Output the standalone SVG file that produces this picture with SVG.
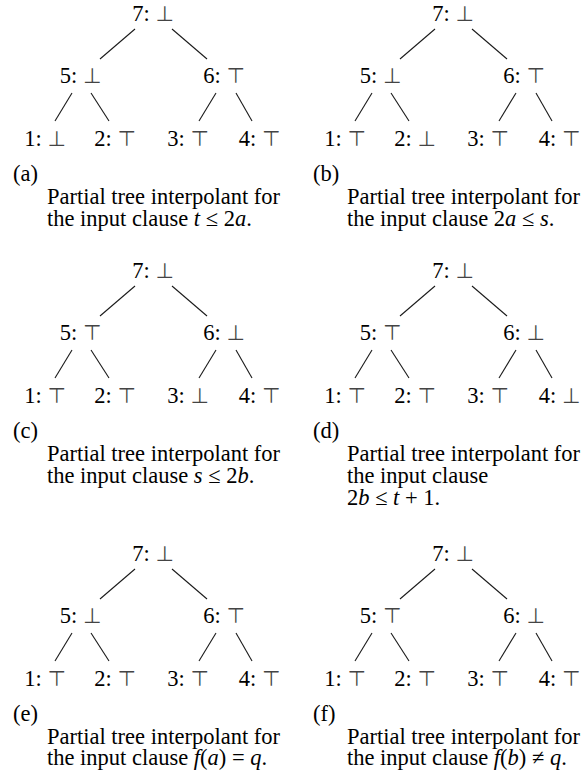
<svg xmlns="http://www.w3.org/2000/svg" width="582" height="773" viewBox="0 0 582 773">
<style>
.n{font-family:"Liberation Serif","Times New Roman",serif;font-size:22.5px;fill:#000;text-anchor:middle}
.s{font-family:"DejaVu Sans",sans-serif;font-size:21px;fill:#444}
.c{font-family:"Liberation Serif","Times New Roman",serif;font-size:22.5px;fill:#000}
.i{font-style:italic}
.e line{stroke:#1a1a1a;stroke-width:1.1;fill:none}
</style>
<g id="connectors" class="e">
<g id="edges-a">
<line x1="135" y1="29" x2="100" y2="59"/><line x1="172" y1="29" x2="207" y2="59"/>
<line x1="72" y1="93" x2="55" y2="121"/><line x1="91" y1="93" x2="109" y2="121"/>
<line x1="216" y1="93" x2="199" y2="121"/><line x1="236" y1="93" x2="252" y2="121"/>
</g>
<g id="edges-b" transform="translate(300,0)">
<line x1="135" y1="29" x2="100" y2="59"/><line x1="172" y1="29" x2="207" y2="59"/>
<line x1="72" y1="93" x2="55" y2="121"/><line x1="91" y1="93" x2="109" y2="121"/>
<line x1="216" y1="93" x2="199" y2="121"/><line x1="236" y1="93" x2="252" y2="121"/>
</g>
<g id="edges-c" transform="translate(0,257)">
<line x1="135" y1="29" x2="100" y2="59"/><line x1="172" y1="29" x2="207" y2="59"/>
<line x1="72" y1="93" x2="55" y2="121"/><line x1="91" y1="93" x2="109" y2="121"/>
<line x1="216" y1="93" x2="199" y2="121"/><line x1="236" y1="93" x2="252" y2="121"/>
</g>
<g id="edges-d" transform="translate(300,257)">
<line x1="135" y1="29" x2="100" y2="59"/><line x1="172" y1="29" x2="207" y2="59"/>
<line x1="72" y1="93" x2="55" y2="121"/><line x1="91" y1="93" x2="109" y2="121"/>
<line x1="216" y1="93" x2="199" y2="121"/><line x1="236" y1="93" x2="252" y2="121"/>
</g>
<g id="edges-e" transform="translate(0,540)">
<line x1="135" y1="29" x2="100" y2="59"/><line x1="172" y1="29" x2="207" y2="59"/>
<line x1="72" y1="93" x2="55" y2="121"/><line x1="91" y1="93" x2="109" y2="121"/>
<line x1="216" y1="93" x2="199" y2="121"/><line x1="236" y1="93" x2="252" y2="121"/>
</g>
<g id="edges-f" transform="translate(300,540)">
<line x1="135" y1="29" x2="100" y2="59"/><line x1="172" y1="29" x2="207" y2="59"/>
<line x1="72" y1="93" x2="55" y2="121"/><line x1="91" y1="93" x2="109" y2="121"/>
<line x1="216" y1="93" x2="199" y2="121"/><line x1="236" y1="93" x2="252" y2="121"/>
</g>
</g>
<g id="panel-a">
<g id="a7"><text class="n" x="153" y="21">7: <tspan class="s">⊥</tspan></text></g>
<g id="a5"><text class="n" x="80.5" y="83">5: <tspan class="s">⊥</tspan></text></g>
<g id="a6"><text class="n" x="224" y="83">6: <tspan class="s">⊤</tspan></text></g>
<g id="a1"><text class="n" x="45" y="146">1: <tspan class="s">⊥</tspan></text></g>
<g id="a2"><text class="n" x="115" y="146">2: <tspan class="s">⊤</tspan></text></g>
<g id="a3"><text class="n" x="188" y="146">3: <tspan class="s">⊤</tspan></text></g>
<g id="a4"><text class="n" x="259.5" y="146">4: <tspan class="s">⊤</tspan></text></g>
<text class="c" x="13" y="181">(a)</text>
<text class="c" x="47" y="204">Partial tree interpolant for</text>
<text class="c" x="47" y="226">the input clause <tspan class="i">t</tspan> ≤ 2<tspan class="i">a</tspan>.</text>
</g>
<g id="panel-b">
<g id="b7"><text class="n" x="453" y="21">7: <tspan class="s">⊥</tspan></text></g>
<g id="b5"><text class="n" x="380.5" y="83">5: <tspan class="s">⊥</tspan></text></g>
<g id="b6"><text class="n" x="524" y="83">6: <tspan class="s">⊤</tspan></text></g>
<g id="b1"><text class="n" x="345" y="146">1: <tspan class="s">⊤</tspan></text></g>
<g id="b2"><text class="n" x="415" y="146">2: <tspan class="s">⊥</tspan></text></g>
<g id="b3"><text class="n" x="488" y="146">3: <tspan class="s">⊤</tspan></text></g>
<g id="b4"><text class="n" x="559.5" y="146">4: <tspan class="s">⊤</tspan></text></g>
<text class="c" x="313" y="181">(b)</text>
<text class="c" x="347" y="204">Partial tree interpolant for</text>
<text class="c" x="347" y="226">the input clause 2<tspan class="i">a</tspan> ≤ <tspan class="i">s</tspan>.</text>
</g>
<g id="panel-c">
<g id="c7"><text class="n" x="153" y="278">7: <tspan class="s">⊥</tspan></text></g>
<g id="c5"><text class="n" x="80.5" y="340">5: <tspan class="s">⊤</tspan></text></g>
<g id="c6"><text class="n" x="224" y="340">6: <tspan class="s">⊥</tspan></text></g>
<g id="c1"><text class="n" x="45" y="403">1: <tspan class="s">⊤</tspan></text></g>
<g id="c2"><text class="n" x="115" y="403">2: <tspan class="s">⊤</tspan></text></g>
<g id="c3"><text class="n" x="188" y="403">3: <tspan class="s">⊥</tspan></text></g>
<g id="c4"><text class="n" x="259.5" y="403">4: <tspan class="s">⊤</tspan></text></g>
<text class="c" x="13" y="438">(c)</text>
<text class="c" x="47" y="461">Partial tree interpolant for</text>
<text class="c" x="47" y="483">the input clause <tspan class="i">s</tspan> ≤ 2<tspan class="i">b</tspan>.</text>
</g>
<g id="panel-d">
<g id="d7"><text class="n" x="453" y="278">7: <tspan class="s">⊥</tspan></text></g>
<g id="d5"><text class="n" x="380.5" y="340">5: <tspan class="s">⊤</tspan></text></g>
<g id="d6"><text class="n" x="524" y="340">6: <tspan class="s">⊥</tspan></text></g>
<g id="d1"><text class="n" x="345" y="403">1: <tspan class="s">⊤</tspan></text></g>
<g id="d2"><text class="n" x="415" y="403">2: <tspan class="s">⊤</tspan></text></g>
<g id="d3"><text class="n" x="488" y="403">3: <tspan class="s">⊤</tspan></text></g>
<g id="d4"><text class="n" x="559.5" y="403">4: <tspan class="s">⊥</tspan></text></g>
<text class="c" x="313" y="438">(d)</text>
<text class="c" x="347" y="461">Partial tree interpolant for</text>
<text class="c" x="347" y="483">the input clause</text>
<text class="c" x="347" y="505">2<tspan class="i">b</tspan> ≤ <tspan class="i">t</tspan> + 1.</text>
</g>
<g id="panel-e">
<g id="e7"><text class="n" x="153" y="561">7: <tspan class="s">⊥</tspan></text></g>
<g id="e5"><text class="n" x="80.5" y="623">5: <tspan class="s">⊥</tspan></text></g>
<g id="e6"><text class="n" x="224" y="623">6: <tspan class="s">⊤</tspan></text></g>
<g id="e1"><text class="n" x="45" y="686">1: <tspan class="s">⊤</tspan></text></g>
<g id="e2"><text class="n" x="115" y="686">2: <tspan class="s">⊤</tspan></text></g>
<g id="e3"><text class="n" x="188" y="686">3: <tspan class="s">⊤</tspan></text></g>
<g id="e4"><text class="n" x="259.5" y="686">4: <tspan class="s">⊤</tspan></text></g>
<text class="c" x="13" y="721">(e)</text>
<text class="c" x="47" y="744">Partial tree interpolant for</text>
<text class="c" x="47" y="765">the input clause <tspan class="i">f</tspan>(<tspan class="i">a</tspan>) = <tspan class="i">q</tspan>.</text>
</g>
<g id="panel-f">
<g id="f7"><text class="n" x="453" y="561">7: <tspan class="s">⊥</tspan></text></g>
<g id="f5"><text class="n" x="380.5" y="623">5: <tspan class="s">⊤</tspan></text></g>
<g id="f6"><text class="n" x="524" y="623">6: <tspan class="s">⊥</tspan></text></g>
<g id="f1"><text class="n" x="345" y="686">1: <tspan class="s">⊤</tspan></text></g>
<g id="f2"><text class="n" x="415" y="686">2: <tspan class="s">⊤</tspan></text></g>
<g id="f3"><text class="n" x="488" y="686">3: <tspan class="s">⊤</tspan></text></g>
<g id="f4"><text class="n" x="559.5" y="686">4: <tspan class="s">⊤</tspan></text></g>
<text class="c" x="313" y="721">(f)</text>
<text class="c" x="347" y="744">Partial tree interpolant for</text>
<text class="c" x="347" y="765">the input clause <tspan class="i">f</tspan>(<tspan class="i">b</tspan>) ≠ <tspan class="i">q</tspan>.</text>
</g>
</svg>
